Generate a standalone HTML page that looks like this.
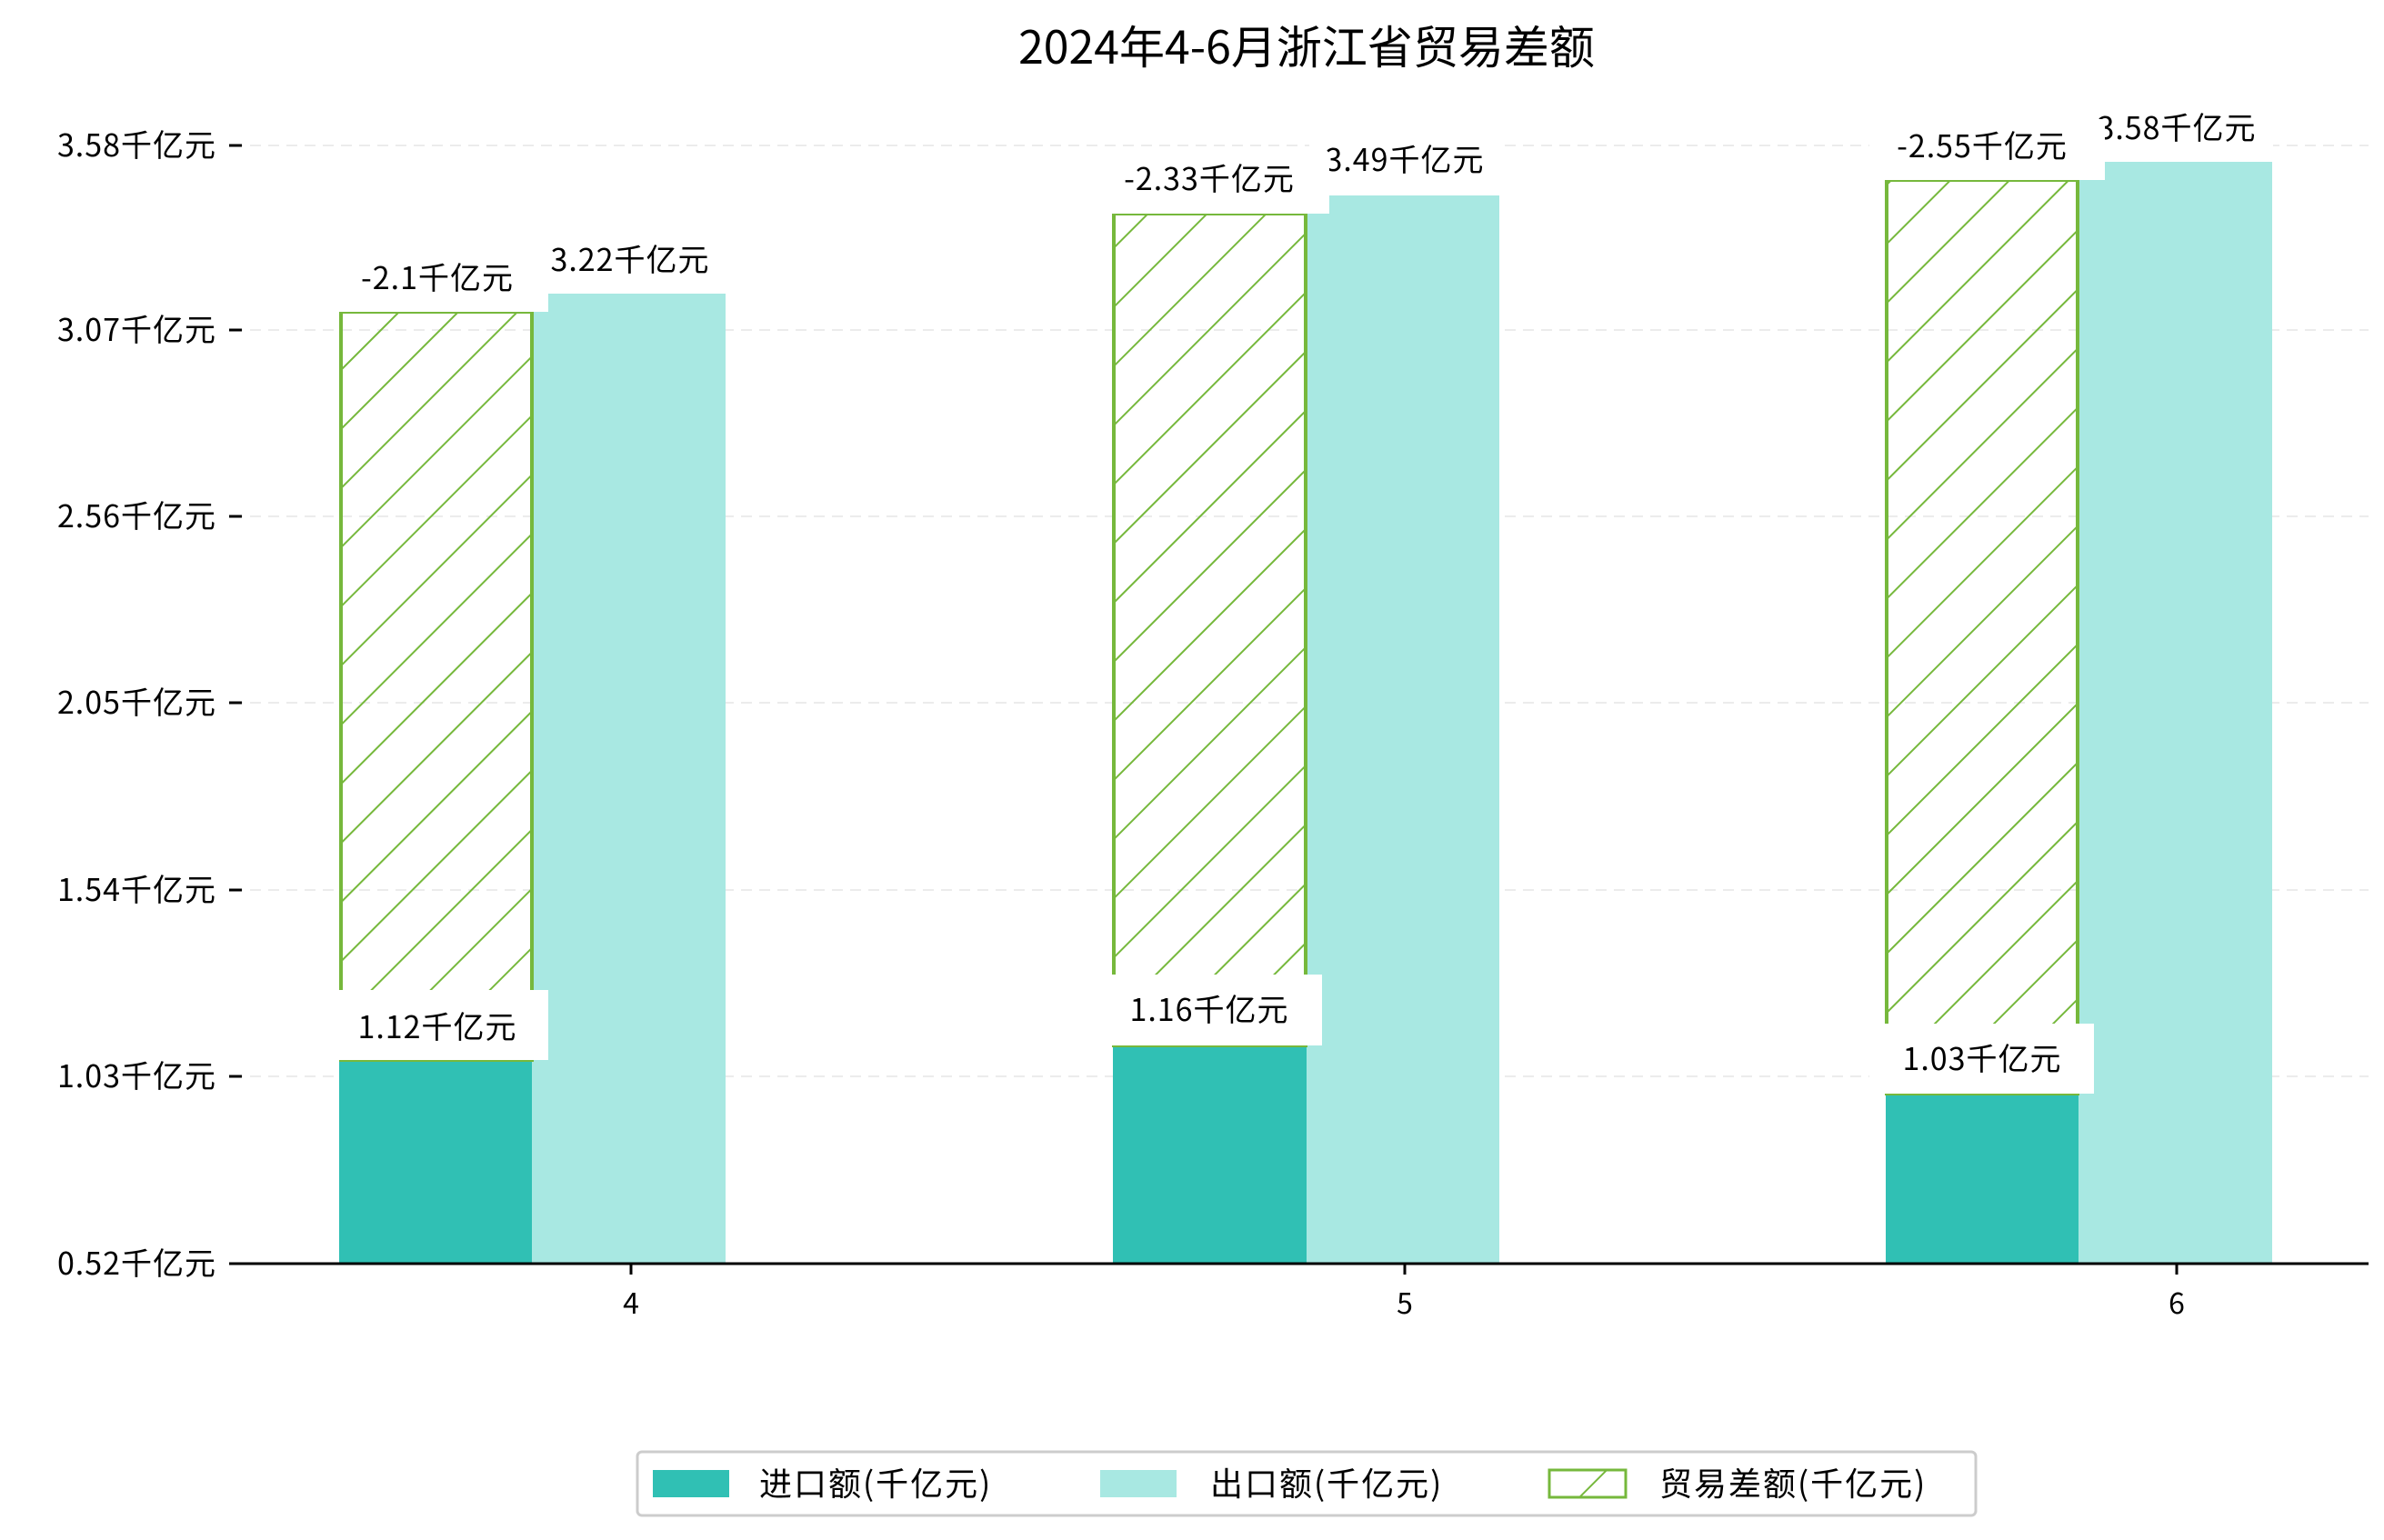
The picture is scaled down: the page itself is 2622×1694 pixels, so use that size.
<!DOCTYPE html>
<html><head><meta charset="utf-8"><style>
html,body{margin:0;padding:0;background:#fff;}
svg text{font-family:"WenQuanYi Zen Hei","Noto Sans CJK SC",sans-serif;fill:#000;}
</style></head><body>
<svg width="2622" height="1689" viewBox="0 0 2622 1689" xmlns="http://www.w3.org/2000/svg">
<defs>
<pattern id="h" patternUnits="userSpaceOnUse" width="46" height="46" patternTransform="rotate(-45)">
<line x1="0" y1="0" x2="46" y2="0" stroke="#76b83c" stroke-width="4"/>
</pattern>
</defs>
<rect width="2622" height="1689" fill="#fff"/>
<text x="1437" y="70" font-size="50" text-anchor="middle">2024年4-6月浙江省贸易差额</text>
<g stroke="#ececec" stroke-width="2" stroke-dasharray="12,8">
<line x1="255" x2="2605" y1="160" y2="160"/><line x1="255" x2="2605" y1="363" y2="363"/>
<line x1="255" x2="2605" y1="568" y2="568"/><line x1="255" x2="2605" y1="773" y2="773"/>
<line x1="255" x2="2605" y1="979" y2="979"/><line x1="255" x2="2605" y1="1184" y2="1184"/>
</g>
<g stroke="#000" stroke-width="3">
<line x1="252" x2="266" y1="160" y2="160"/><line x1="252" x2="266" y1="363" y2="363"/>
<line x1="252" x2="266" y1="568" y2="568"/><line x1="252" x2="266" y1="773" y2="773"/>
<line x1="252" x2="266" y1="979" y2="979"/><line x1="252" x2="266" y1="1184" y2="1184"/>
<line x1="252" x2="266" y1="1390" y2="1390"/>
</g>
<g font-size="34" text-anchor="end" letter-spacing="1">
<text x="238" y="172">3.58千亿元</text><text x="238" y="375">3.07千亿元</text>
<text x="238" y="580">2.56千亿元</text><text x="238" y="785">2.05千亿元</text>
<text x="238" y="991">1.54千亿元</text><text x="238" y="1196">1.03千亿元</text>
<text x="238" y="1402">0.52千亿元</text>
</g>
<rect x="373" y="1166" width="212" height="224" fill="#30c0b4"/>
<rect x="585" y="323" width="213" height="1067" fill="#a8e8e2"/>
<rect x="1224" y="1150" width="213" height="240" fill="#30c0b4"/>
<rect x="1437" y="215" width="212" height="1175" fill="#a8e8e2"/>
<rect x="2074" y="1203" width="212" height="187" fill="#30c0b4"/>
<rect x="2286" y="178" width="213" height="1212" fill="#a8e8e2"/>
<g stroke="#76b83c" stroke-width="4">
<rect x="375" y="343" width="210" height="823" fill="url(#h)"/>
<rect x="1225" y="235" width="211" height="915" fill="url(#h)"/>
<rect x="2075" y="198" width="210" height="1005" fill="url(#h)"/>
</g>
<g font-size="34" text-anchor="middle" letter-spacing="1">
<rect x="590" y="258" width="210" height="60" fill="#fff"/><text x="693" y="298">3.22千亿元</text>
<rect x="1440" y="150" width="210" height="60" fill="#fff"/><text x="1545" y="188">3.49千亿元</text>
<rect x="2290" y="115" width="210" height="60" fill="#fff"/><text x="2394" y="153">3.58千亿元</text>
<rect x="365" y="274" width="238" height="69" fill="#fff"/><text x="481" y="318">-2.1千亿元</text>
<rect x="1205" y="168" width="257" height="67" fill="#fff"/><text x="1330" y="209">-2.33千亿元</text>
<rect x="2056" y="131" width="259" height="67" fill="#fff"/><text x="2180" y="173">-2.55千亿元</text>
<rect x="365" y="1089" width="238" height="77" fill="#fff"/><text x="481" y="1142">1.12千亿元</text>
<rect x="1205" y="1072" width="249" height="78" fill="#fff"/><text x="1330" y="1123">1.16千亿元</text>
<rect x="2056" y="1126" width="247" height="77" fill="#fff"/><text x="2180" y="1177">1.03千亿元</text>
</g>
<line x1="255" x2="2605" y1="1390" y2="1390" stroke="#000" stroke-width="3"/>
<g stroke="#000" stroke-width="3">
<line x1="694" x2="694" y1="1390" y2="1402"/><line x1="1545" x2="1545" y1="1390" y2="1402"/><line x1="2394" x2="2394" y1="1390" y2="1402"/>
</g>
<g font-size="32" text-anchor="middle">
<text x="694" y="1445">4</text><text x="1545" y="1445">5</text><text x="2394" y="1445">6</text>
</g>
<rect x="701" y="1597" width="1472" height="70" rx="5" fill="#fff" stroke="#cccccc" stroke-width="3"/>
<rect x="718" y="1617" width="84" height="30" fill="#30c0b4"/>
<rect x="1210" y="1617" width="84" height="30" fill="#a8e8e2"/>
<rect x="1704" y="1617" width="84" height="30" fill="url(#h)" stroke="#76b83c" stroke-width="3"/>
<g font-size="36" letter-spacing="2">
<text x="835" y="1645">进口额(千亿元)</text>
<text x="1331" y="1645">出口额(千亿元)</text>
<text x="1825" y="1645">贸易差额(千亿元)</text>
</g>
</svg>
</body></html>
